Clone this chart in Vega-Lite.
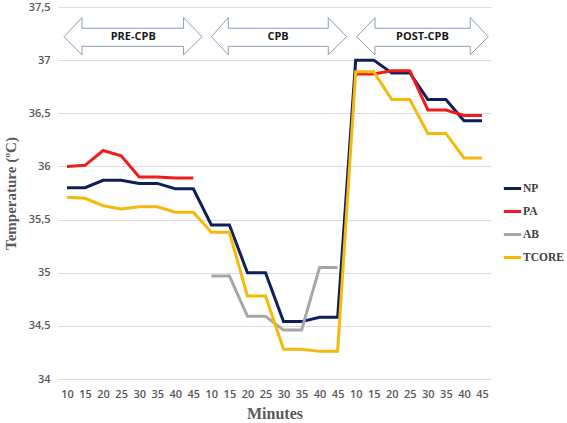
{
  "$schema": "https://vega.github.io/schema/vega-lite/v6.json",
  "width": 433,
  "height": 372,
  "autosize": {"type": "none"},
  "padding": {"left": 58, "top": 7, "right": 76, "bottom": 44},
  "background": "white",
  "config": {
    "view": {"stroke": null},
    "mark": {"invalid": "break-paths-show-domains"}
  },
  "datasets": {
    "temps": [
      {"i":0,"min":10,"s":"NP","t":35.80},{"i":1,"min":15,"s":"NP","t":35.80},{"i":2,"min":20,"s":"NP","t":35.87},{"i":3,"min":25,"s":"NP","t":35.87},
      {"i":4,"min":30,"s":"NP","t":35.84},{"i":5,"min":35,"s":"NP","t":35.84},{"i":6,"min":40,"s":"NP","t":35.79},{"i":7,"min":45,"s":"NP","t":35.79},
      {"i":8,"min":10,"s":"NP","t":35.45},{"i":9,"min":15,"s":"NP","t":35.45},{"i":10,"min":20,"s":"NP","t":35.00},{"i":11,"min":25,"s":"NP","t":35.00},
      {"i":12,"min":30,"s":"NP","t":34.54},{"i":13,"min":35,"s":"NP","t":34.54},{"i":14,"min":40,"s":"NP","t":34.58},{"i":15,"min":45,"s":"NP","t":34.58},
      {"i":16,"min":10,"s":"NP","t":37.00},{"i":17,"min":15,"s":"NP","t":37.00},{"i":18,"min":20,"s":"NP","t":36.88},{"i":19,"min":25,"s":"NP","t":36.88},
      {"i":20,"min":30,"s":"NP","t":36.63},{"i":21,"min":35,"s":"NP","t":36.63},{"i":22,"min":40,"s":"NP","t":36.43},{"i":23,"min":45,"s":"NP","t":36.43},

      {"i":0,"min":10,"s":"PA","t":36.00},{"i":1,"min":15,"s":"PA","t":36.01},{"i":2,"min":20,"s":"PA","t":36.15},{"i":3,"min":25,"s":"PA","t":36.10},
      {"i":4,"min":30,"s":"PA","t":35.90},{"i":5,"min":35,"s":"PA","t":35.90},{"i":6,"min":40,"s":"PA","t":35.89},{"i":7,"min":45,"s":"PA","t":35.89},
      {"i":8,"min":10,"s":"PA","t":null},{"i":9,"min":15,"s":"PA","t":null},{"i":10,"min":20,"s":"PA","t":null},{"i":11,"min":25,"s":"PA","t":null},
      {"i":12,"min":30,"s":"PA","t":null},{"i":13,"min":35,"s":"PA","t":null},{"i":14,"min":40,"s":"PA","t":null},{"i":15,"min":45,"s":"PA","t":null},
      {"i":16,"min":10,"s":"PA","t":36.87},{"i":17,"min":15,"s":"PA","t":36.87},{"i":18,"min":20,"s":"PA","t":36.90},{"i":19,"min":25,"s":"PA","t":36.90},
      {"i":20,"min":30,"s":"PA","t":36.53},{"i":21,"min":35,"s":"PA","t":36.53},{"i":22,"min":40,"s":"PA","t":36.48},{"i":23,"min":45,"s":"PA","t":36.48},

      {"i":0,"min":10,"s":"AB","t":null},{"i":1,"min":15,"s":"AB","t":null},{"i":2,"min":20,"s":"AB","t":null},{"i":3,"min":25,"s":"AB","t":null},
      {"i":4,"min":30,"s":"AB","t":null},{"i":5,"min":35,"s":"AB","t":null},{"i":6,"min":40,"s":"AB","t":null},{"i":7,"min":45,"s":"AB","t":null},
      {"i":8,"min":10,"s":"AB","t":34.97},{"i":9,"min":15,"s":"AB","t":34.97},{"i":10,"min":20,"s":"AB","t":34.59},{"i":11,"min":25,"s":"AB","t":34.59},
      {"i":12,"min":30,"s":"AB","t":34.46},{"i":13,"min":35,"s":"AB","t":34.46},{"i":14,"min":40,"s":"AB","t":35.05},{"i":15,"min":45,"s":"AB","t":35.05},
      {"i":16,"min":10,"s":"AB","t":null},{"i":17,"min":15,"s":"AB","t":null},{"i":18,"min":20,"s":"AB","t":null},{"i":19,"min":25,"s":"AB","t":null},
      {"i":20,"min":30,"s":"AB","t":null},{"i":21,"min":35,"s":"AB","t":null},{"i":22,"min":40,"s":"AB","t":null},{"i":23,"min":45,"s":"AB","t":null},

      {"i":0,"min":10,"s":"TCORE","t":35.71},{"i":1,"min":15,"s":"TCORE","t":35.70},{"i":2,"min":20,"s":"TCORE","t":35.63},{"i":3,"min":25,"s":"TCORE","t":35.60},
      {"i":4,"min":30,"s":"TCORE","t":35.62},{"i":5,"min":35,"s":"TCORE","t":35.62},{"i":6,"min":40,"s":"TCORE","t":35.57},{"i":7,"min":45,"s":"TCORE","t":35.57},
      {"i":8,"min":10,"s":"TCORE","t":35.38},{"i":9,"min":15,"s":"TCORE","t":35.38},{"i":10,"min":20,"s":"TCORE","t":34.78},{"i":11,"min":25,"s":"TCORE","t":34.78},
      {"i":12,"min":30,"s":"TCORE","t":34.28},{"i":13,"min":35,"s":"TCORE","t":34.28},{"i":14,"min":40,"s":"TCORE","t":34.26},{"i":15,"min":45,"s":"TCORE","t":34.26},
      {"i":16,"min":10,"s":"TCORE","t":36.89},{"i":17,"min":15,"s":"TCORE","t":36.89},{"i":18,"min":20,"s":"TCORE","t":36.63},{"i":19,"min":25,"s":"TCORE","t":36.63},
      {"i":20,"min":30,"s":"TCORE","t":36.31},{"i":21,"min":35,"s":"TCORE","t":36.31},{"i":22,"min":40,"s":"TCORE","t":36.08},{"i":23,"min":45,"s":"TCORE","t":36.08}
    ],
    "arrows": [
      {"a":"PRE-CPB","k":0,"x":-0.17,"y":37.22},{"a":"PRE-CPB","k":1,"x":0.83,"y":37.40},{"a":"PRE-CPB","k":2,"x":0.83,"y":37.30},
      {"a":"PRE-CPB","k":3,"x":6.46,"y":37.30},{"a":"PRE-CPB","k":4,"x":6.46,"y":37.40},{"a":"PRE-CPB","k":5,"x":7.48,"y":37.22},
      {"a":"PRE-CPB","k":6,"x":6.46,"y":37.05},{"a":"PRE-CPB","k":7,"x":6.46,"y":37.13},{"a":"PRE-CPB","k":8,"x":0.83,"y":37.13},
      {"a":"PRE-CPB","k":9,"x":0.83,"y":37.05},{"a":"PRE-CPB","k":10,"x":-0.17,"y":37.22},

      {"a":"CPB","k":0,"x":8.0,"y":37.22},{"a":"CPB","k":1,"x":8.94,"y":37.40},{"a":"CPB","k":2,"x":8.94,"y":37.30},
      {"a":"CPB","k":3,"x":14.48,"y":37.30},{"a":"CPB","k":4,"x":14.48,"y":37.40},{"a":"CPB","k":5,"x":15.5,"y":37.22},
      {"a":"CPB","k":6,"x":14.48,"y":37.05},{"a":"CPB","k":7,"x":14.48,"y":37.13},{"a":"CPB","k":8,"x":8.94,"y":37.13},
      {"a":"CPB","k":9,"x":8.94,"y":37.05},{"a":"CPB","k":10,"x":8.0,"y":37.22},

      {"a":"POST-CPB","k":0,"x":16.06,"y":37.22},{"a":"POST-CPB","k":1,"x":17.07,"y":37.40},{"a":"POST-CPB","k":2,"x":17.07,"y":37.30},
      {"a":"POST-CPB","k":3,"x":22.35,"y":37.30},{"a":"POST-CPB","k":4,"x":22.35,"y":37.40},{"a":"POST-CPB","k":5,"x":23.35,"y":37.22},
      {"a":"POST-CPB","k":6,"x":22.35,"y":37.05},{"a":"POST-CPB","k":7,"x":22.35,"y":37.13},{"a":"POST-CPB","k":8,"x":17.07,"y":37.13},
      {"a":"POST-CPB","k":9,"x":17.07,"y":37.05},{"a":"POST-CPB","k":10,"x":16.06,"y":37.22}
    ],
    "arrowLabels": [
      {"a":"PRE-CPB","x":3.67,"y":37.22},
      {"a":"CPB","x":11.7,"y":37.22},
      {"a":"POST-CPB","x":19.7,"y":37.22}
    ]
  },
  "layer": [
    {
      "data": {"name": "temps"},
      "mark": {"type": "line", "strokeWidth": 3, "invalid": "break-paths-show-domains"},
      "encoding": {
        "x": {
          "field": "i", "type": "quantitative",
          "scale": {"domain": [-0.5, 23.5], "nice": false, "zero": false},
          "axis": {
            "values": [0,1,2,3,4,5,6,7,8,9,10,11,12,13,14,15,16,17,18,19,20,21,22,23],
            "tickCount": 30,
            "labelExpr": "'' + (10 + 5 * (datum.value % 8))",
            "labelOverlap": false, "labelBound": false, "labelFlush": false,
            "grid": false, "ticks": false, "domain": false,
            "labelFont": "Open Sans", "labelFontSize": 11, "labelFontWeight": 600, "labelColor": "#595959",
            "labelPadding": 9,
            "title": "Minutes",
            "titleFont": "Liberation Serif", "titleFontSize": 16, "titleFontWeight": "bold", "titleColor": "#595959",
            "titlePadding": 6
          }
        },
        "y": {
          "field": "t", "type": "quantitative",
          "scale": {"domain": [34, 37.5], "nice": false, "zero": false},
          "axis": {
            "values": [34, 34.5, 35, 35.5, 36, 36.5, 37, 37.5],
            "tickCount": 10,
            "labelExpr": "replace(format(datum.value, '~g'), '.', ',')",
            "labelOverlap": false, "labelBound": false, "labelFlush": false,
            "grid": true, "gridColor": "#dcdcdc", "gridWidth": 1,
            "ticks": false, "domain": false,
            "labelFont": "Open Sans", "labelFontSize": 11, "labelFontWeight": 600, "labelColor": "#595959",
            "labelPadding": 8,
            "title": "Temperature (ºC)",
            "titleFont": "Liberation Serif", "titleFontSize": 15, "titleFontWeight": "bold", "titleColor": "#595959",
            "titlePadding": 10
          }
        },
        "color": {
          "field": "s", "type": "nominal",
          "scale": {"domain": ["NP", "PA", "AB", "TCORE"], "range": ["#0f1f5a", "#ee1c1c", "#a6a6a6", "#f5b90a"]},
          "legend": {
            "title": null, "orient": "none", "legendX": 444, "legendY": 171,
            "symbolType": "stroke", "symbolStrokeWidth": 3, "symbolSize": 300,
            "labelFont": "Liberation Serif", "labelFontSize": 11.5, "labelFontWeight": "bold", "labelColor": "#404040",
            "labelOffset": 0, "rowPadding": 6, "padding": 0
          }
        },
        "detail": {"field": "s"}
      }
    },
    {
      "data": {"name": "arrows"},
      "mark": {"type": "line", "stroke": "#8c9cba", "strokeWidth": 1, "strokeJoin": "miter"},
      "encoding": {
        "x": {"field": "x", "type": "quantitative"},
        "y": {"field": "y", "type": "quantitative"},
        "detail": {"field": "a"},
        "order": {"field": "k", "type": "quantitative"}
      }
    },
    {
      "data": {"name": "arrowLabels"},
      "mark": {"type": "text", "font": "Open Sans", "fontSize": 11, "fontWeight": "bold", "color": "#1a1a1a"},
      "encoding": {
        "x": {"field": "x", "type": "quantitative"},
        "y": {"field": "y", "type": "quantitative"},
        "text": {"field": "a"}
      }
    }
  ]
}
